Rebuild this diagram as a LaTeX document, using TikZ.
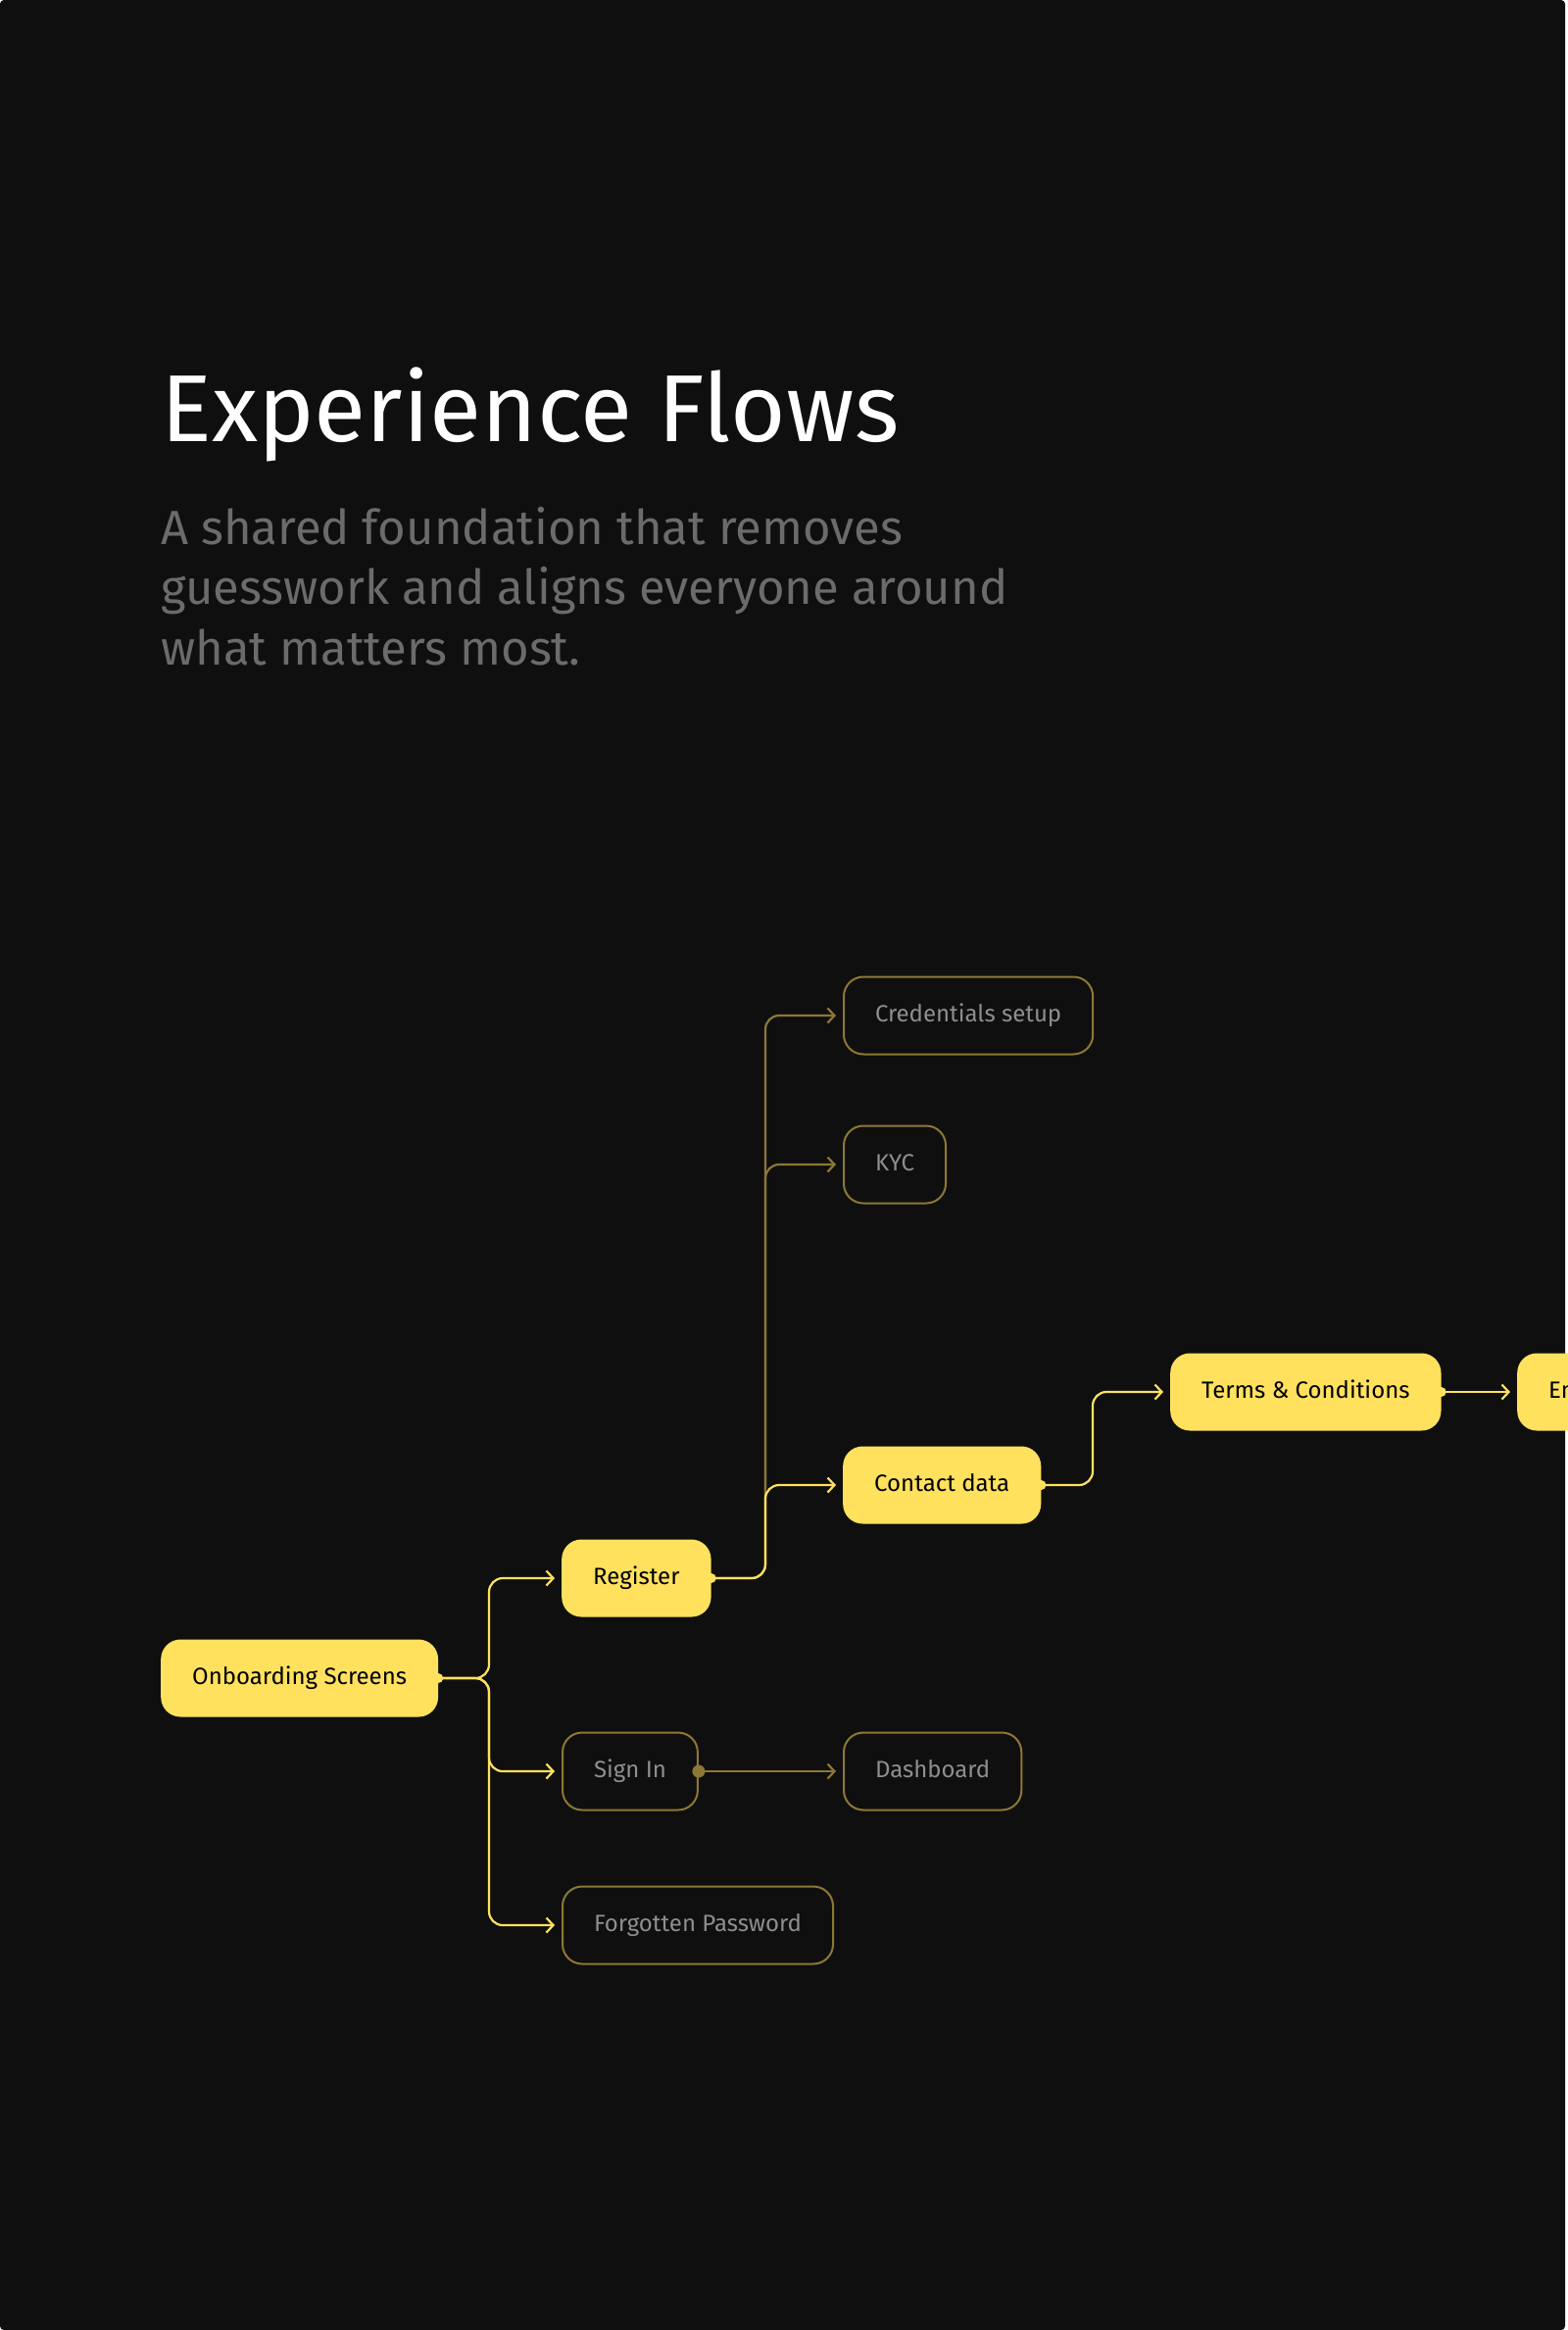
\documentclass[tikz,border=0pt]{standalone}
\usepackage{fontspec}
\setmainfont{Fira Sans}
\usetikzlibrary{arrows.meta,positioning,calc}
\definecolor{flowbg}{HTML}{0F0F0F}
\definecolor{flowyellow}{HTML}{FFE15E}
\definecolor{flowolive}{HTML}{8C7834}
\definecolor{flowgrey}{HTML}{8E8E8E}
\definecolor{flowsub}{HTML}{6B6B6B}
\tikzset{
    screen/.style={rectangle, rounded corners=20pt, minimum height=79pt,
        inner xsep=32pt, text height=18pt, text depth=5pt, anchor=west,
        font=\fontsize{24}{28}\selectfont},
    active/.style={screen, fill=flowyellow, text=black},
    inactive/.style={screen, draw=flowolive, line width=2pt, fill=flowbg, text=flowgrey},
    flow/.style={draw=flowyellow, line width=2.2pt, rounded corners=14pt,
        shorten >=7pt, -{Straight Barb[length=7pt,width=15pt]}},
    dimflow/.style={flow, draw=flowolive},
}
\begin{document}
\begin{tikzpicture}[x=1pt, y=-1pt]
	\useasboundingbox (0,0) rectangle (1600,2377);
	\fill[white] (0,0) rectangle (1600,2377);
	\fill[flowbg, rounded corners=4pt] (0,0) rectangle (1597,2377);
	% heading
	\node[anchor=base west, inner sep=0, text=white,
		font=\fontsize{97}{110}\selectfont] (title) at (164,450) {Experience Flows};
	\node[anchor=north west, inner sep=0, text=flowsub, align=left,
		font=\fontsize{49}{61.5}\selectfont] (subtitle) at (164,517)
		{A shared foundation that removes\\guesswork and aligns everyone around\\what matters most.};
	% screens
	\node[active] (onboard) at (164,1712) {Onboarding Screens};
	\node[active] (register) at (573,1610) {Register};
	\node[inactive] (signin) at (573,1807) {Sign In};
	\node[inactive] (forgot) at (573,1964) {Forgotten Password};
	\node[inactive] (creds) at (860,1036) {Credentials setup};
	\node[inactive] (kyc) at (860,1188) {KYC};
	\node[active] (contact) at (860,1515) {Contact data};
	\node[inactive] (dash) at (860,1807) {Dashboard};
	\node[active] (terms) at (1194,1420) {Terms \& Conditions};
	\node[active] (next) at (1548,1420) {En};
	%
	\coordinate (split1) at (499,1712);
	\coordinate (split2) at (781,1610);
	\coordinate (split3) at (1115,1515);
	% connectors
	\draw[flow] (onboard.east) -- (split1) |- (register.west);
	\draw[flow] (onboard.east) -- (split1) |- (signin.west);
	\draw[flow] (onboard.east) -- (split1) |- (forgot.west);
	\draw[dimflow] (signin.east) -- (dash.west);
	\draw[dimflow] (register.east) -- (split2) |- (creds.west);
	\draw[dimflow] (register.east) -- (split2) |- (kyc.west);
	\draw[flow] (register.east) -- (split2) |- (contact.west);
	\draw[flow] (contact.east) -- (split3) |- (terms.west);
	\draw[flow] (terms.east) -- (next.west);
	% start dots
	\foreach \n in {onboard,register,contact,terms}
		\fill[flowyellow] (\n.east) circle (5pt);
	\fill[flowolive] (signin.east) circle (6.5pt);
\end{tikzpicture}
\end{document}
